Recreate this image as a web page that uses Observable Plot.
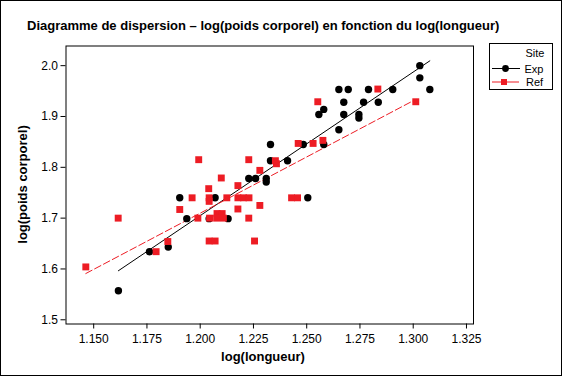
<!DOCTYPE html>
<html>
<head>
<meta charset="utf-8">
<script src="https://cdn.jsdelivr.net/npm/d3@7"></script>
<script src="https://cdn.jsdelivr.net/npm/@observablehq/plot@0.6"></script>
<style>
  html, body { margin: 0; padding: 0; background: white; }
  #wrap { position: relative; width: 562px; height: 376px; overflow: hidden; }
  #border { position: absolute; left: 0; top: 0; width: 562px; height: 376px; box-sizing: border-box; border: 1px solid #000; pointer-events: none; }
</style>
</head>
<body>
<div id="wrap"><div id="border"></div></div>
<script>
// ---- Data ----
const titleText = "Diagramme de dispersion – log(poids corporel) en fonction du log(longueur)";
const xLabel = "log(longueur)";
const yLabel = "log(poids corporel)";
const legendTitle = "Site";
const siteNames = ["Exp", "Ref"];

const expX = [1.1616, 1.1762, 1.1850, 1.1904, 1.1937, 1.2042, 1.2070, 1.2131, 1.2228, 1.2260,
              1.2310, 1.2310, 1.2330, 1.2330, 1.2410, 1.2484, 1.2505, 1.2580, 1.2580, 1.2557,
              1.2651, 1.2695, 1.2674, 1.2674, 1.2651, 1.2745, 1.2745, 1.2767, 1.2790, 1.2836,
              1.2904, 1.3031, 1.3031, 1.3078];
const expY = [1.557, 1.634, 1.643, 1.740, 1.699, 1.699, 1.740, 1.699, 1.778, 1.778,
              1.778, 1.771, 1.845, 1.813, 1.813, 1.845, 1.740, 1.845, 1.914, 1.904,
              1.953, 1.953, 1.928, 1.904, 1.874, 1.904, 1.897, 1.928, 1.953, 1.928,
              1.953, 2.000, 1.976, 1.953];

const refX = [1.1463, 1.1615, 1.1793, 1.1848, 1.1904, 1.1962, 1.1989, 1.1993, 1.2040, 1.2042,
              1.2042, 1.2042, 1.2070, 1.2044, 1.2079, 1.2103, 1.2077, 1.2109, 1.2099, 1.2125,
              1.2177, 1.2203, 1.2229, 1.2177, 1.2177, 1.2228, 1.2228, 1.2255, 1.2280, 1.2280,
              1.2353, 1.2358, 1.2429, 1.2457, 1.2460, 1.2530, 1.2552, 1.2576, 1.2834, 1.3012];
const refY = [1.604, 1.700, 1.634, 1.654, 1.717, 1.740, 1.700, 1.815, 1.758, 1.740,
              1.733, 1.655, 1.655, 1.700, 1.709, 1.709, 1.700, 1.700, 1.779, 1.740,
              1.740, 1.740, 1.740, 1.764, 1.718, 1.700, 1.815, 1.655, 1.794, 1.725,
              1.813, 1.807, 1.740, 1.740, 1.847, 1.847, 1.929, 1.853, 1.954, 1.929];

const xTicks = [1.150, 1.175, 1.200, 1.225, 1.250, 1.275, 1.300, 1.325];
const yTicks = [1.5, 1.6, 1.7, 1.8, 1.9, 2.0];
const xDomain = [1.137, 1.3283];
const yDomain = [1.4917, 2.0387];

// ---- Build tables ----
const exp = expX.map((x, i) => ({x, y: expY[i], site: siteNames[0]}));
const ref = refX.map((x, i) => ({x, y: refY[i], site: siteNames[1]}));

const RED = "#ed1c24";
const FONT = "'Liberation Sans', Arial, sans-serif";

const W = 562, H = 376;
const mL = 65.5, mR = 89, mT = 45.5, mB = 52.5;

const chart = Plot.plot({
  width: W,
  height: H,
  marginLeft: mL,
  marginRight: mR,
  marginTop: mT,
  marginBottom: mB,
  style: {fontFamily: FONT, fontSize: "12px", background: "white", color: "black", overflow: "visible"},
  x: {domain: xDomain},
  y: {domain: yDomain},
  marks: [
    Plot.axisX(xTicks, {tickFormat: d => d.toFixed(3), tickSize: 5, tickPadding: 5, label: null, stroke: "black", fill: "black"}),
    Plot.axisY(yTicks, {tickFormat: d => d.toFixed(1), tickSize: 5, tickPadding: 3, label: null, stroke: "black", fill: "black"}),
    Plot.linearRegressionY(exp, {x: "x", y: "y", stroke: "black", strokeWidth: 1, ci: 0}),
    Plot.linearRegressionY(ref, {x: "x", y: "y", stroke: RED, strokeWidth: 1, strokeDasharray: "7,3", ci: 0}),
    Plot.dot(exp, {x: "x", y: "y", r: 3.7, fill: "black", stroke: "none"}),
    Plot.dot(ref, {x: "x", y: "y", symbol: "square", r: 3.9, fill: RED, stroke: "none"}),
    Plot.frame({stroke: "black", strokeWidth: 1})
  ]
});

document.getElementById("wrap").insertBefore(chart, document.getElementById("border"));
chart.style.position = "absolute";
chart.style.left = "0px";
chart.style.top = "0px";

const svg = d3.select(chart);
const g = svg.append("g").attr("font-family", FONT).attr("fill", "black");

// Title
g.append("text").attr("x", 27).attr("y", 30)
  .attr("text-anchor", "start")
  .attr("font-size", 13).attr("font-weight", "bold")
  .text(titleText);

// Axis labels
const plotCx = 263;
g.append("text").attr("x", plotCx).attr("y", 361)
  .attr("text-anchor", "middle").attr("font-size", 13).attr("font-weight", "bold")
  .text(xLabel);
g.append("text").attr("transform", "translate(27,184.5) rotate(-90)")
  .attr("text-anchor", "middle").attr("font-size", 13).attr("font-weight", "bold")
  .text(yLabel);

// Legend
const lg = g.append("g");
lg.append("rect").attr("x", 489.5).attr("y", 43.5).attr("width", 63).attr("height", 46)
  .attr("fill", "white").attr("stroke", "black");
const lx = 534;
lg.append("text").attr("x", lx + 1).attr("y", 57).attr("text-anchor", "middle").attr("font-size", 11).text(legendTitle);
lg.append("line").attr("x1", 492).attr("x2", 520).attr("y1", 68.5).attr("y2", 68.5).attr("stroke", "black");
lg.append("circle").attr("cx", 505.5).attr("cy", 68.5).attr("r", 3.4).attr("fill", "black");
lg.append("text").attr("x", lx).attr("y", 72.5).attr("text-anchor", "middle").attr("font-size", 11).text(siteNames[0]);
lg.append("line").attr("x1", 492).attr("x2", 519).attr("y1", 82).attr("y2", 82).attr("stroke", RED);
lg.append("rect").attr("x", 501).attr("y", 79).attr("width", 6).attr("height", 6).attr("fill", RED);
lg.append("text").attr("x", lx + 0.5).attr("y", 86).attr("text-anchor", "middle").attr("font-size", 11).text(siteNames[1]);
</script>
</body>
</html>
